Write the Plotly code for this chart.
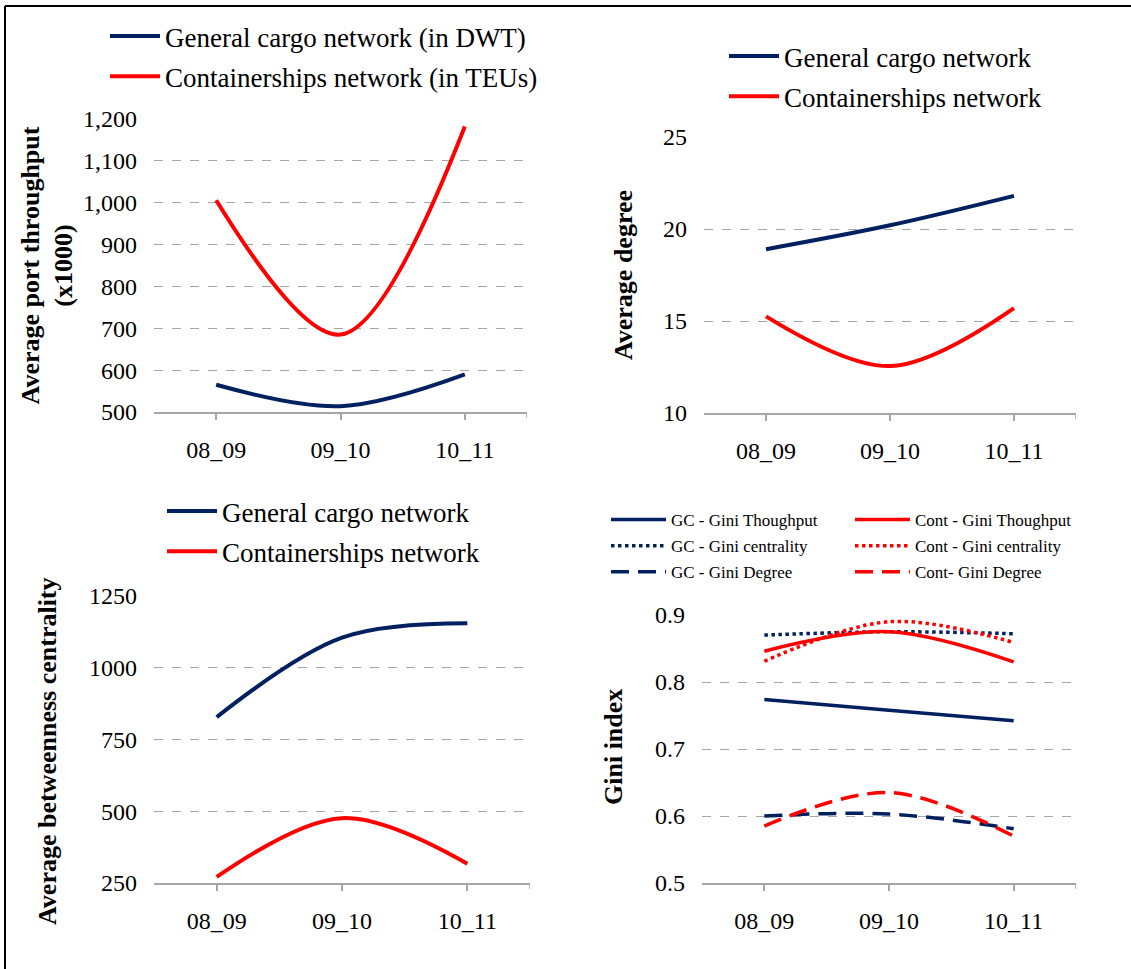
import plotly.graph_objects as go

W, H = 1131, 969

periods = ["08_09", "09_10", "10_11"]

# Panel 1: average port throughput (x1000)
thr_gc = [565, 514, 590]
thr_cont = [1006, 685, 1182]

# Panel 2: average degree
deg_gc = [18.9, 20.2, 21.8]
deg_cont = [15.25, 12.55, 15.7]

# Panel 3: average betweenness centrality
btw_gc = [828, 1105, 1155]
btw_cont = [271, 476, 317]

# Panel 4: Gini index
gini_gc_thr = [0.774, 0.758, 0.742]
gini_cont_thr = [0.846, 0.875, 0.830]
gini_gc_cen = [0.870, 0.875, 0.872]
gini_cont_cen = [0.831, 0.890, 0.859]
gini_gc_deg = [0.600, 0.603, 0.581]
gini_cont_deg = [0.585, 0.635, 0.570]

NAVY = "#002060"
RED = "#FF0000"
GRID = "#A6A6A6"
FONT = "Liberation Serif"
DASH = "18px,9px"


def fx(px):
    return px / W


def fy(py):
    return 1 - py / H


fig = go.Figure()


def add(x, y, name, color, xa, ya, legend, dash="solid", width=4, group=None):
    fig.add_trace(go.Scatter(
        x=x, y=y, name=name, mode="lines",
        line=dict(color=color, width=width, dash=dash, shape="spline", smoothing=1),
        xaxis=xa, yaxis=ya, legend=legend, legendgroup=group or name,
        hoverinfo="skip"))


add(periods, thr_gc, "General cargo network (in DWT)", NAVY, "x", "y", "legend")
add(periods, thr_cont, "Containerships network (in TEUs)", RED, "x", "y", "legend")
add(periods, deg_gc, "General cargo network", NAVY, "x2", "y2", "legend2", group="a2")
add(periods, deg_cont, "Containerships network", RED, "x2", "y2", "legend2", group="b2")
add(periods, btw_gc, "General cargo network", NAVY, "x3", "y3", "legend3", group="a3")
add(periods, btw_cont, "Containerships network", RED, "x3", "y3", "legend3", group="b3")
add(periods, gini_gc_thr, "GC - Gini Thoughput", NAVY, "x4", "y4", "legend4", width=3.5)
add(periods, gini_gc_cen, "GC - Gini centrality", NAVY, "x4", "y4", "legend4", dash="dot", width=3.5)
add(periods, gini_gc_deg, "GC - Gini Degree", NAVY, "x4", "y4", "legend4", dash=DASH, width=3.5)
add(periods, gini_cont_thr, "Cont - Gini Thoughput", RED, "x4", "y4", "legend5", width=3.5)
add(periods, gini_cont_cen, "Cont - Gini centrality", RED, "x4", "y4", "legend5", dash="dot", width=3.5)
add(periods, gini_cont_deg, "Cont- Gini Degree", RED, "x4", "y4", "legend5", dash=DASH, width=3.5)

tickfont = dict(family=FONT, size=24, color="black")
titlefont = dict(family=FONT, size=26, color="black", weight="bold")


def xaxis(x0, x1, anchor):
    return dict(domain=[fx(x0), fx(x1)], anchor=anchor, type="category",
                range=[-0.5, 2.5], showgrid=False, showline=True, linecolor=GRID,
                linewidth=1.5, ticks="outside", ticklen=6, tickcolor=GRID,
                tickwidth=1.5, tickfont=tickfont, ticklabelstandoff=9,
                automargin=False, fixedrange=True)


def yaxis(y0, y1, anchor, rng, dtick, title, fmt="", standoff=15):
    return dict(domain=[fy(y0), fy(y1)], anchor=anchor, range=rng, dtick=dtick,
                tick0=rng[0], showgrid=True, gridcolor=GRID, griddash="dash",
                gridwidth=1.2, zeroline=False, showline=False, ticks="",
                tickfont=tickfont, tickformat=fmt, ticklabelstandoff=16,
                title=dict(text=title, font=titlefont, standoff=standoff),
                automargin=False, fixedrange=True)


legfont = dict(family=FONT, size=27, color="black")
smallfont = dict(family=FONT, size=17, color="black")


def leg(xpx, ypx, font, gap, iw):
    return dict(x=fx(xpx), y=fy(ypx), xanchor="left", yanchor="top",
                xref="paper", yref="paper", font=font, bgcolor="rgba(0,0,0,0)",
                tracegroupgap=gap, itemwidth=iw, orientation="v")


fig.update_layout(
    width=W, height=H, margin=dict(l=0, r=0, t=0, b=0, autoexpand=False),
    paper_bgcolor="white", plot_bgcolor="white",
    font=dict(family=FONT, color="black"),
    xaxis=xaxis(154, 527, "y"),
    yaxis=yaxis(412, 119, "x", [500, 1200], 100,
                "Average port throughput<br>(x1000)", fmt=",d", standoff=2),
    xaxis2=xaxis(704, 1076, "y2"),
    yaxis2=yaxis(413, 137, "x2", [10, 25], 5, "Average degree", standoff=22),
    xaxis3=xaxis(154, 530, "y3"),
    yaxis3=yaxis(883, 596, "x3", [250, 1250], 250, ""),
    xaxis4=xaxis(702, 1076, "y4"),
    yaxis4=yaxis(883, 615, "x4", [0.5, 0.9], 0.1, "", fmt=".1f"),
    legend=leg(105, 12, legfont, 2, 50),
    legend2=leg(724, 32, legfont, 2, 50),
    legend3=leg(162, 487, legfont, 2, 50),
    legend4=leg(606, 502, smallfont, 1, 55),
    legend5=leg(850, 502, smallfont, 1, 55),
    showlegend=True,
)

# y-axis titles of the lower panels, placed like the original
fig.add_annotation(text="Average betweenness centrality", textangle=-90,
                   xref="paper", yref="paper", x=fx(47), y=fy(751),
                   xanchor="center", yanchor="middle", showarrow=False,
                   font=titlefont)
fig.add_annotation(text="Gini index", textangle=-90,
                   xref="paper", yref="paper", x=fx(613), y=fy(747),
                   xanchor="center", yanchor="middle", showarrow=False,
                   font=titlefont)

# right-end tick marks of the category axes
for xa, ya in [("x", "y"), ("x2", "y2"), ("x3", "y3"), ("x4", "y4")]:
    fig.add_shape(type="line", xref=xa, yref=ya + " domain", x0=2.5, x1=2.5,
                  ysizemode="pixel", yanchor=0, y0=0, y1=-6,
                  line=dict(color=GRID, width=1.5))

# outer frame (left and top edges)
fig.add_shape(type="line", xref="paper", yref="paper", x0=fx(5), x1=fx(5),
              y0=fy(6), y1=fy(975), line=dict(color="black", width=2))
fig.add_shape(type="line", xref="paper", yref="paper", x0=fx(5), x1=1.01,
              y0=fy(6), y1=fy(6), line=dict(color="black", width=2))

fig.write_html("out.html", config={"displayModeBar": False},
               post_script="document.body.style.margin='0';")
